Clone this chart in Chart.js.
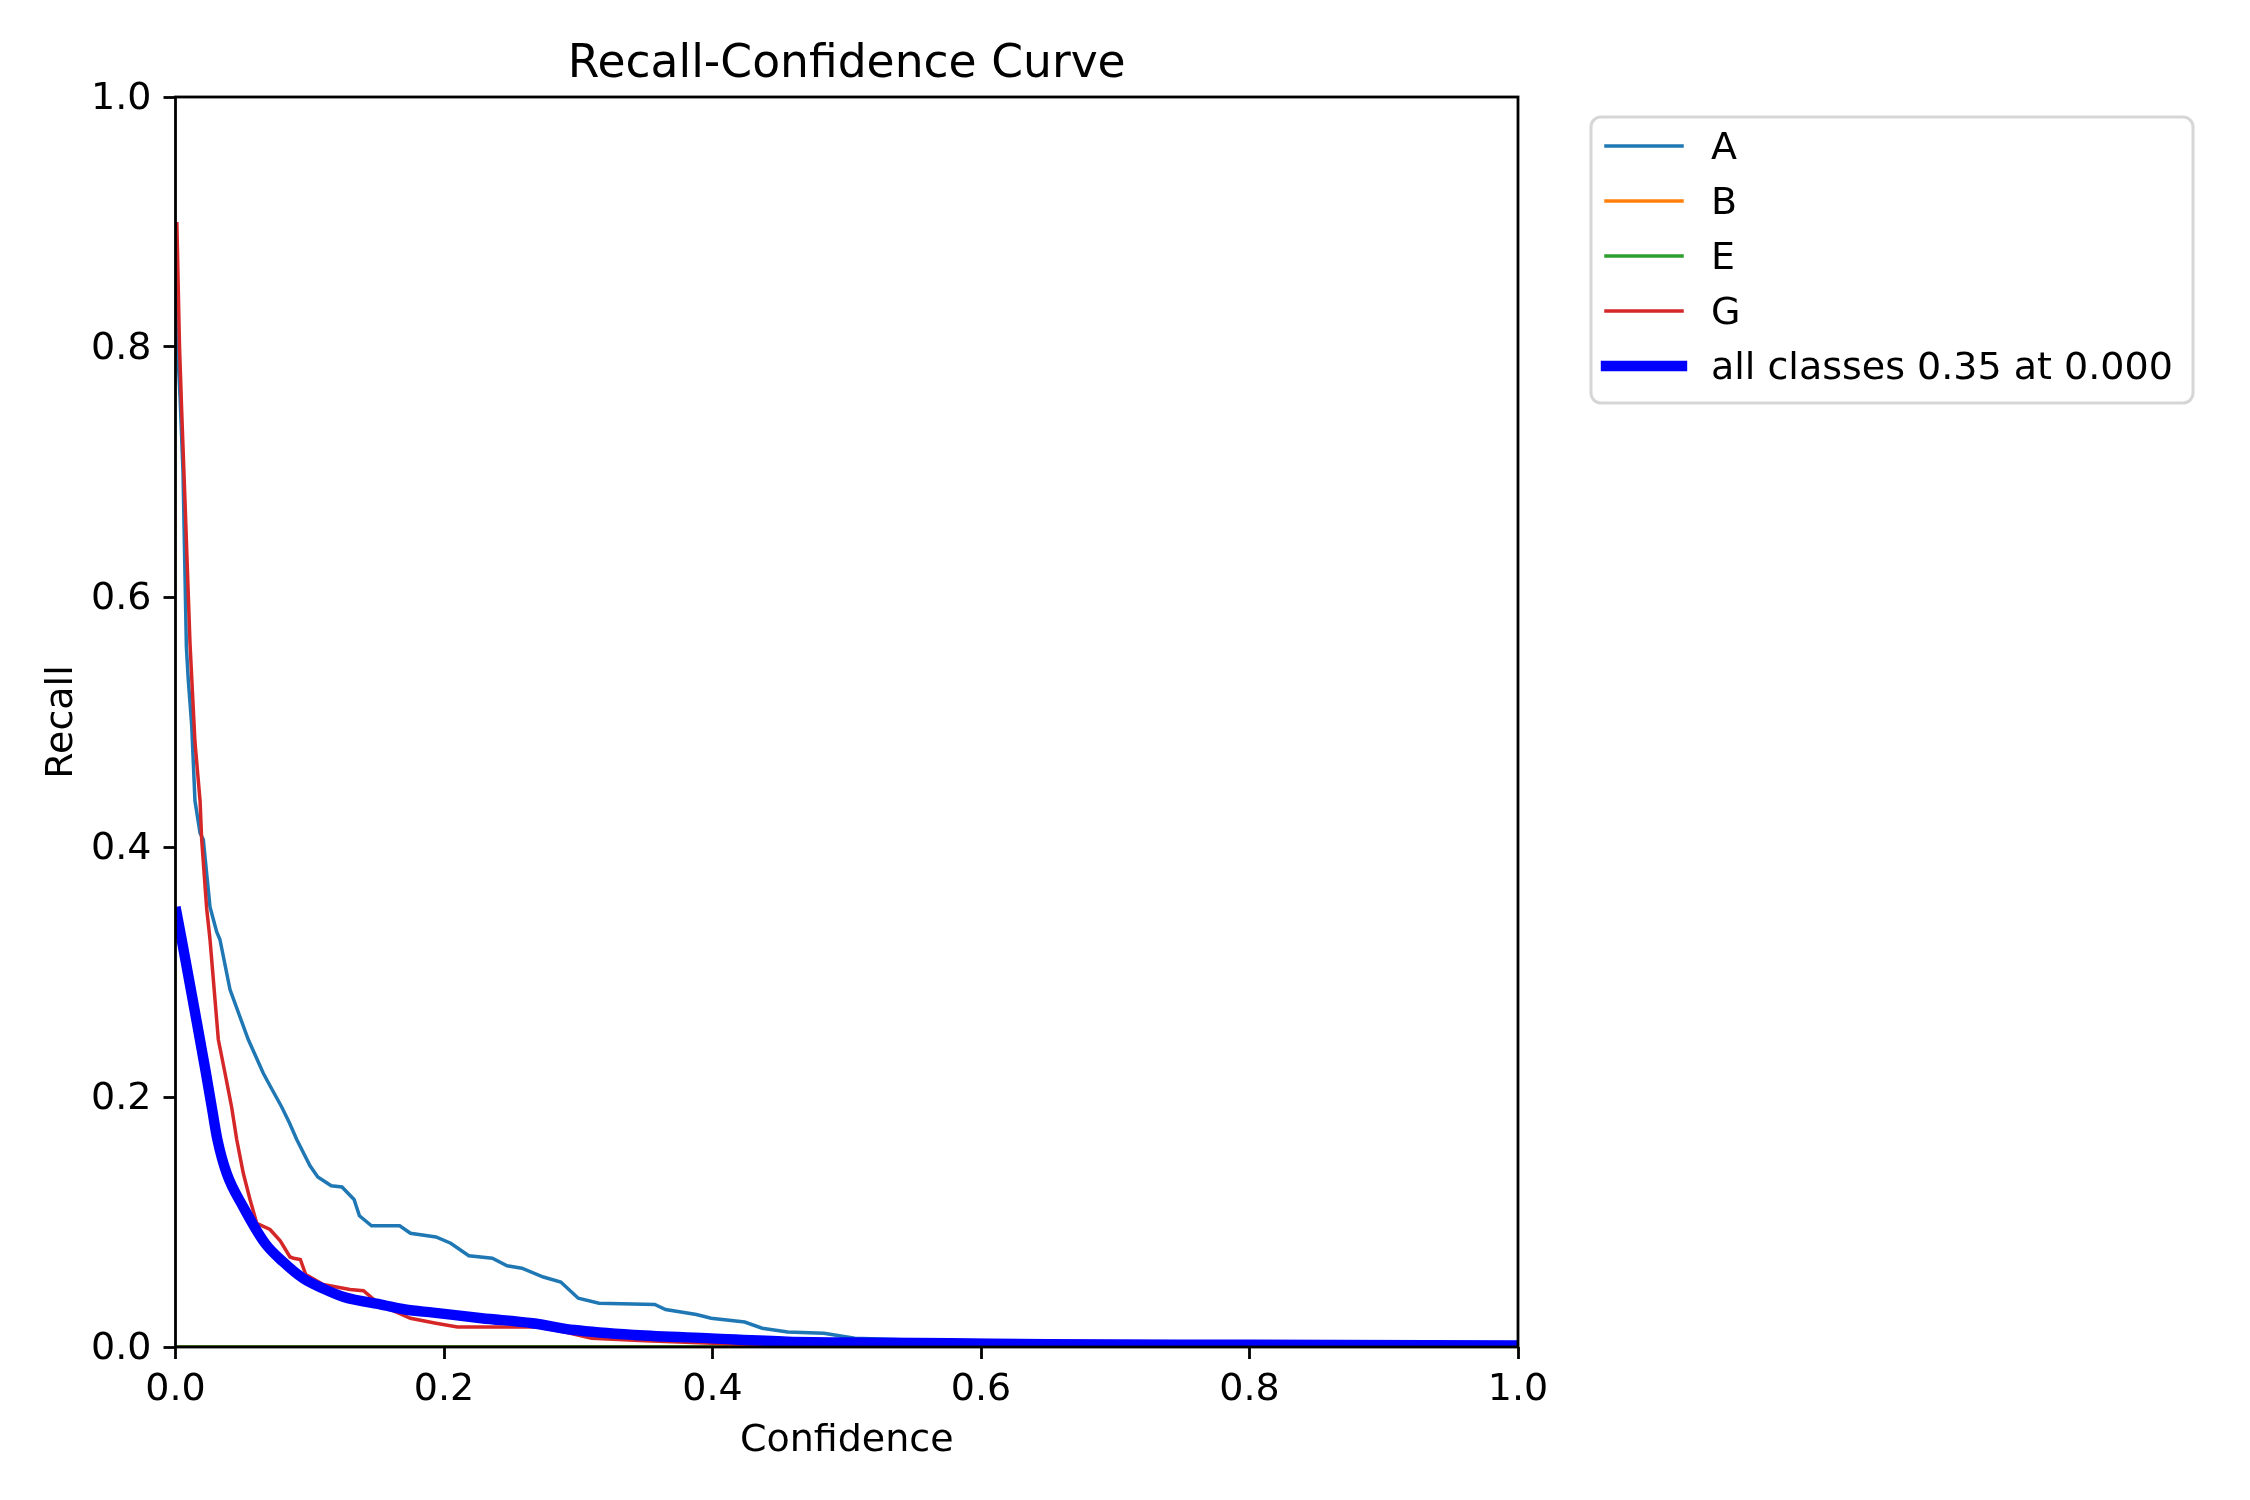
<!DOCTYPE html>
<html>
<head>
<meta charset="utf-8">
<title>Recall-Confidence Curve</title>
<script src="https://cdn.jsdelivr.net/npm/chart.js@4.4.1/dist/chart.umd.min.js"></script>
<style>
  html, body { margin: 0; padding: 0; background: #fff; }
  #wrap { width: 2250px; height: 1500px; }
</style>
</head>
<body>
<div id="wrap"><canvas id="curve" width="2250" height="1500"></canvas></div>
<script>
// Class labels (matplotlib tab10 colours + plain blue for the mean curve)
const classNames = ['A', 'B', 'E', 'G'];
const allLabel = 'all classes 0.35 at 0.000';

// Class A
const confA = [0.001, 0.0015, 0.0034, 0.0056, 0.0081, 0.0095, 0.0121, 0.0145, 0.0183, 0.0207,
               0.0257, 0.0307, 0.0331, 0.0406, 0.0542, 0.0654, 0.0704, 0.0791, 0.085,
               0.0903, 0.1002, 0.106, 0.116, 0.124, 0.133, 0.137, 0.146, 0.167, 0.175,
               0.194, 0.205, 0.2185, 0.236, 0.247, 0.258, 0.274, 0.287, 0.300, 0.3155,
               0.357, 0.365, 0.388, 0.399, 0.424, 0.437, 0.456, 0.483, 0.506, 0.536,
               0.577, 0.632, 0.66, 0.75, 1.0];
const recallA = [0.88, 0.80, 0.76, 0.70, 0.56, 0.534, 0.497, 0.437, 0.411, 0.406,
                 0.352, 0.332, 0.326, 0.286, 0.246, 0.219, 0.209, 0.192, 0.179,
                 0.166, 0.145, 0.136, 0.129, 0.128, 0.118, 0.105, 0.097, 0.097, 0.091,
                 0.088, 0.083, 0.073, 0.071, 0.065, 0.063, 0.056, 0.052, 0.039, 0.035,
                 0.034, 0.030, 0.026, 0.023, 0.020, 0.015, 0.012, 0.011, 0.007, 0.006,
                 0.0045, 0.004, 0.002, 0.0015, 0.001];

// Classes B and E sit on zero the whole way
const confFlat = [0, 1];
const recallB = [0, 0];
const recallE = [0, 0];

// Class G
const confG = [0.001, 0.003, 0.0046, 0.0071, 0.0108, 0.0145, 0.0183, 0.0195, 0.0232, 0.0257,
               0.0319, 0.0369, 0.0418, 0.0456, 0.0505, 0.0555, 0.0605, 0.0704, 0.078, 0.0853,
               0.088, 0.093, 0.097, 0.11, 0.13, 0.14, 0.15, 0.16, 0.175, 0.194,
               0.21, 0.27, 0.29, 0.31, 0.35, 0.40, 0.45, 0.50, 1.0];
const recallG = [0.90, 0.80, 0.749, 0.676, 0.563, 0.484, 0.437, 0.406, 0.351, 0.326,
                 0.246, 0.219, 0.192, 0.166, 0.139, 0.118, 0.099, 0.094, 0.085, 0.072,
                 0.071, 0.070, 0.058, 0.050, 0.046, 0.045, 0.036, 0.030, 0.023, 0.019,
                 0.016, 0.016, 0.012, 0.007, 0.005, 0.003, 0.001, 0, 0];

// All classes (smoothed mean)
const confAll = [0, 0.0046, 0.0138, 0.0227, 0.027, 0.0312, 0.0381, 0.0505, 0.0667, 0.0803,
                 0.095, 0.11, 0.1254, 0.155, 0.171, 0.192, 0.228, 0.266, 0.297, 0.342,
                 0.399, 0.456, 0.52, 0.577, 0.65, 0.8, 1.0];
const recallAll = [0.352, 0.326, 0.272, 0.219, 0.192, 0.166, 0.139, 0.112, 0.083, 0.068,
                   0.055, 0.0467, 0.040, 0.0335, 0.030, 0.0275, 0.023, 0.019, 0.0136, 0.0096,
                   0.0069, 0.0043, 0.0035, 0.0030, 0.0022, 0.0018, 0.0012];

const axisTicks = [0, 0.2, 0.4, 0.6, 0.8, 1.0];

Chart.defaults.font.family = 'DejaVu Sans';
Chart.defaults.color = '#000';

function points(xs, ys) {
    return xs.map((x, i) => ({ x: x, y: ys[i] }));
}

// Frame, title and legend drawn matplotlib-style
const mplLook = {
    id: 'mplLook',
    afterDatasetsDraw(chart) {
        const { ctx, chartArea: a } = chart;
        ctx.save();
        ctx.strokeStyle = '#000';
        ctx.lineWidth = 2.8;
        ctx.strokeRect(a.left, a.top, a.right - a.left, a.bottom - a.top);
        ctx.restore();
    },
    afterDraw(chart) {
        const { ctx, chartArea: a } = chart;
        ctx.save();

        // title
        ctx.fillStyle = '#000';
        ctx.font = '45.6px "DejaVu Sans"';
        ctx.textAlign = 'center';
        ctx.textBaseline = 'alphabetic';
        ctx.fillText('Recall-Confidence Curve', (a.left + a.right) / 2, 77);

        // legend box
        ctx.beginPath();
        ctx.roundRect(1591, 117, 602, 286, 10);
        ctx.fillStyle = '#fff';
        ctx.fill();
        ctx.strokeStyle = '#d6d6d6';
        ctx.lineWidth = 3;
        ctx.stroke();

        chart.data.datasets.forEach((ds, i) => {
            const y = 146 + i * 55;
            ctx.beginPath();
            ctx.strokeStyle = ds.borderColor;
            ctx.lineWidth = ds.borderWidth;
            ctx.lineCap = 'square';
            ctx.moveTo(1606, y);
            ctx.lineTo(1682, y);
            ctx.stroke();
            ctx.fillStyle = '#000';
            ctx.font = '38px "DejaVu Sans"';
            ctx.textAlign = 'left';
            ctx.textBaseline = 'middle';
            ctx.fillText(ds.label, 1711, y + 3);
        });
        ctx.restore();
    }
};

const lineBase = { pointRadius: 0, fill: false, clip: 0, tension: 0 };

new Chart(document.getElementById('curve'), {
    type: 'line',
    data: {
        datasets: [
            { ...lineBase, label: classNames[0], data: points(confA, recallA), borderColor: '#1f77b4', borderWidth: 3.5, order: 4 },
            { ...lineBase, label: classNames[1], data: points(confFlat, recallB), borderColor: '#ff7f0e', borderWidth: 3.5, order: 3 },
            { ...lineBase, label: classNames[2], data: points(confFlat, recallE), borderColor: '#2ca02c', borderWidth: 3.5, order: 2 },
            { ...lineBase, label: classNames[3], data: points(confG, recallG), borderColor: '#d62728', borderWidth: 3.5, order: 1 },
            { ...lineBase, label: allLabel, data: points(confAll, recallAll), borderColor: '#0000ff', borderWidth: 10.4,
              cubicInterpolationMode: 'monotone', order: 0 }
        ]
    },
    options: {
        responsive: false,
        animation: false,
        devicePixelRatio: 1,
        layout: { padding: { top: 97, right: 732, bottom: 0, left: 0 } },
        plugins: {
            legend: { display: false },
            title: { display: false },
            tooltip: { enabled: false }
        },
        scales: {
            x: {
                type: 'linear',
                min: 0,
                max: 1,
                afterBuildTicks: scale => { scale.ticks = axisTicks.map(v => ({ value: v })); },
                afterFit: scale => { scale.height = 153; },
                ticks: { padding: 8, font: { size: 38 }, maxRotation: 0, autoSkip: false, callback: v => v.toFixed(1) },
                grid: { display: true, drawOnChartArea: false, drawTicks: true, tickLength: 12, tickWidth: 2.8, tickColor: '#000' },
                border: { display: false },
                title: { display: true, text: 'Confidence', font: { size: 38 }, padding: { top: 0, bottom: 36.5 } }
            },
            y: {
                type: 'linear',
                min: 0,
                max: 1,
                afterBuildTicks: scale => { scale.ticks = axisTicks.map(v => ({ value: v })); },
                afterFit: scale => { scale.width = 175.5; },
                ticks: { padding: 12, labelOffset: 2, font: { size: 38 }, autoSkip: false, callback: v => v.toFixed(1) },
                grid: { display: true, drawOnChartArea: false, drawTicks: true, tickLength: 12, tickWidth: 2.8, tickColor: '#000' },
                border: { display: false },
                title: { display: true, text: 'Recall', font: { size: 38 }, padding: { top: 39.5, bottom: 0 } }
            }
        }
    },
    plugins: [mplLook]
});
</script>
</body>
</html>
